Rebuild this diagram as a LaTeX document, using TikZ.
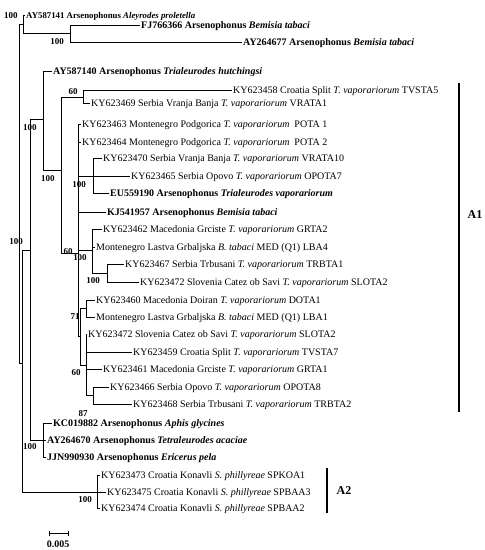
\documentclass[tikz,border=0pt]{standalone}
\usepackage{fontspec}
\setmainfont{Liberation Serif}
\usetikzlibrary{calc}

\begin{document}
\begin{tikzpicture}[x=1pt,y=-1pt,
    leaf/.style={anchor=west,inner sep=1pt,text height=6.5pt,text depth=0pt,
      font=\fontsize{10}{12}\selectfont},
    refleaf/.style={leaf,font=\fontsize{10}{12}\selectfont\bfseries},
    boot/.style={inner sep=0pt,font=\fontsize{9}{10}\selectfont\bfseries},
    elbow/.style={to path={|- (\tikztotarget)}},
    cladebar/.style={line width=1.3pt},
    cladename/.style={inner sep=0pt,font=\fontsize{12}{14}\selectfont\bfseries}]
  \useasboundingbox (0,0) rectangle (485,550);
  % internal nodes
  \coordinate (R) at (19,193);
  \coordinate (Na) at (23,24);
  \coordinate (Ne) at (70,33);
  \coordinate (Nb) at (22,363);
  \coordinate (Nc) at (30,250);
  \coordinate (Nf) at (43,119);
  \coordinate (Nh) at (61,170);
  \coordinate (Ni) at (83,97);
  \coordinate (Nj) at (78,253);
  \coordinate (Nk) at (93,176);
  \coordinate (Nl) at (92,250);
  \coordinate (Np) at (107,273);
  \coordinate (Nm) at (80,336);
  \coordinate (Nr) at (86,308);
  \coordinate (Nn) at (86,365);
  \coordinate (Nq) at (93,395);
  \coordinate (Ng) at (43,440);
  \coordinate (Nd) at (97,492);
  % leaves
  \node[refleaf,font=\fontsize{8.8}{10}\selectfont\bfseries] (L1) at (25,15) {AY587141 Arsenophonus \textit{Aleyrodes proletella}};
  \node[refleaf] (L2) at (140,25) {FJ766366 Arsenophonus \textit{Bemisia tabaci}};
  \node[refleaf] (L3) at (242,42) {AY264677 Arsenophonus \textit{Bemisia tabaci}};
  \node[refleaf] (L4) at (52,71) {AY587140 Arsenophonus \textit{Trialeurodes hutchingsi}};
  \node[leaf] (L5) at (232,90) {KY623458 Croatia Split \textit{T. vaporariorum} TVSTA5};
  \node[leaf] (L6) at (90,103) {KY623469 Serbia Vranja Banja \textit{T. vaporariorum} VRATA1};
  \node[leaf] (L7) at (81,124) {KY623463 Montenegro Podgorica \textit{T. vaporariorum}\ \ POTA 1};
  \node[leaf] (L8) at (81,142) {KY623464 Montenegro Podgorica \textit{T. vaporariorum}\ \ POTA 2};
  \node[leaf] (L9) at (102,158) {KY623470 Serbia Vranja Banja \textit{T. vaporariorum} VRATA10};
  \node[leaf] (L10) at (130,176) {KY623465 Serbia Opovo \textit{T. vaporariorum} OPOTA7};
  \node[refleaf] (L11) at (109,193) {EU559190 Arsenophonus \textit{Trialeurodes vaporariorum}};
  \node[refleaf] (L12) at (106,212) {KJ541957 Arsenophonus \textit{Bemisia tabaci}};
  \node[leaf] (L13) at (102,229) {KY623462 Macedonia Grciste \textit{T. vaporariorum} GRTA2};
  \node[leaf] (L14) at (95,247) {Montenegro Lastva Grbaljska \textit{B. tabaci} MED (Q1) LBA4};
  \node[leaf] (L15) at (124,264) {KY623467 Serbia Trbusani \textit{T. vaporariorum} TRBTA1};
  \node[leaf] (L16) at (139,282) {KY623472 Slovenia Catez ob Savi \textit{T. vaporariorum} SLOTA2};
  \node[leaf] (L17) at (95,300) {KY623460 Macedonia Doiran \textit{T. vaporariorum} DOTA1};
  \node[leaf] (L18) at (95,317) {Montenegro Lastva Grbaljska \textit{B. tabaci} MED (Q1) LBA1};
  \node[leaf] (L19) at (87,334) {KY623472 Slovenia Catez ob Savi \textit{T. vaporariorum} SLOTA2};
  \node[leaf] (L20) at (132,352) {KY623459 Croatia Split \textit{T. vaporariorum} TVSTA7};
  \node[leaf] (L21) at (102,369) {KY623461 Macedonia Grciste \textit{T. vaporariorum} GRTA1};
  \node[leaf] (L22) at (109,387) {KY623466 Serbia Opovo \textit{T. vaporariorum} OPOTA8};
  \node[leaf] (L23) at (132,404) {KY623468 Serbia Trbusani \textit{T. vaporariorum} TRBTA2};
  \node[refleaf] (L24) at (52,423) {KC019882 Arsenophonus \textit{Aphis glycines}};
  \node[refleaf] (L25) at (46,440) {AY264670 Arsenophonus \textit{Tetraleurodes acaciae}};
  \node[refleaf] (L26) at (46,457) {JJN990930 Arsenophonus \textit{Ericerus pela}};
  \node[leaf] (L27) at (100,475) {KY623473 Croatia Konavli \textit{S. phillyreae} SPKOA1};
  \node[leaf] (L28) at (106,492) {KY623475 Croatia Konavli \textit{S. phillyreae} SPBAA3};
  \node[leaf] (L29) at (100,508) {KY623474 Croatia Konavli \textit{S. phillyreae} SPBAA2};
  % branches
  \path[draw,line width=0.5pt]
    (R) edge[elbow] (Na) (R) edge[elbow] (Nb)
    (Na) edge[elbow] (L1.west) (Na) edge[elbow] (Ne)
    (Ne) edge[elbow] (L2.west) (Ne) edge[elbow] (L3.west)
    (Nb) edge[elbow] (Nc) (Nb) edge[elbow] (Nd)
    (Nc) edge[elbow] (Nf) (Nc) edge[elbow] (Ng)
    (Nf) edge[elbow] (L4.west) (Nf) edge[elbow] (Nh)
    (Nh) edge[elbow] (Ni) (Nh) edge[elbow] (Nj)
    (Ni) edge[elbow] (L5.west) (Ni) edge[elbow] (L6.west)
    (Nj) edge[elbow] (L7.west) (Nj) edge[elbow] (L8.west)
    (Nj) edge[elbow] (Nk) (Nj) edge[elbow] (L12.west)
    (Nj) edge[elbow] (Nl) (Nj) edge[elbow] (Nm)
    (Nk) edge[elbow] (L9.west) (Nk) edge[elbow] (L10.west)
    (Nk) edge[elbow] (L11.west)
    (Nl) edge[elbow] (L13.west) (Nl) edge[elbow] (L14.west)
    (Nl) edge[elbow] (Np)
    (Np) edge[elbow] (L15.west) (Np) edge[elbow] (L16.west)
    (Nm) edge[elbow] (Nr) (Nm) edge[elbow] (Nn)
    (Nr) edge[elbow] (L17.west) (Nr) edge[elbow] (L18.west)
    (Nn) edge[elbow] (L19.west) (Nn) edge[elbow] (L20.west)
    (Nn) edge[elbow] (L21.west) (Nn) edge[elbow] (Nq)
    (Nq) edge[elbow] (L22.west) (Nq) edge[elbow] (L23.west)
    (Ng) edge[elbow] (L24.west) (Ng) edge[elbow] (L25.west)
    (Ng) edge[elbow] (L26.west)
    (Nd) edge[elbow] (L27.west) (Nd) edge[elbow] (L28.west)
    (Nd) edge[elbow] (L29.west);
  % bootstrap values
  \node[boot] (bNa) at (11,16) {100};
  \node[boot] (bNe) at (57,42) {100};
  \node[boot] (bNb) at (16,242) {100};
  \node[boot] (bNc) at (30,128) {100};
  \node[boot] (bNf) at (48,179) {100};
  \node[boot] (bNi) at (73,92) {60};
  \node[boot] (bNk) at (79,185) {100};
  \node[boot] (bNj) at (68,252) {60};
  \node[boot] (bNl) at (80,258) {100};
  \node[boot] (bNp) at (93,281) {100};
  \node[boot] (bNr) at (75,317) {71};
  \node[boot] (bNn) at (76,373) {60};
  \node[boot] (bNq) at (83,414) {87};
  \node[boot] (bNg) at (30,447) {100};
  \node[boot] (bNd) at (85,500) {100};
  % clade bars
  \coordinate (A1t) at (459,83);
  \coordinate (A1b) at (459,412);
  \draw[cladebar] (A1t) -- (A1b);
  \node[cladename] (A1) at (475,215) {A1};
  \coordinate (A2t) at (327,468);
  \coordinate (A2b) at (327,513);
  \draw[cladebar] (A2t) -- (A2b);
  \node[cladename] (A2) at (344,491) {A2};
  % scale bar
  \coordinate (S1) at (49,533);
  \coordinate (S2) at (68,533);
  \draw[line width=0.6pt] (S1) -- (S2);
  \draw[line width=0.6pt] ($(S1)+(0,-2.5)$) -- ($(S1)+(0,2.5)$);
  \draw[line width=0.6pt] ($(S2)+(0,-2.5)$) -- ($(S2)+(0,2.5)$);
  \node[boot,font=\fontsize{10}{12}\selectfont\bfseries] (Slab) at (58,544) {0.005};
\end{tikzpicture}
\end{document}
